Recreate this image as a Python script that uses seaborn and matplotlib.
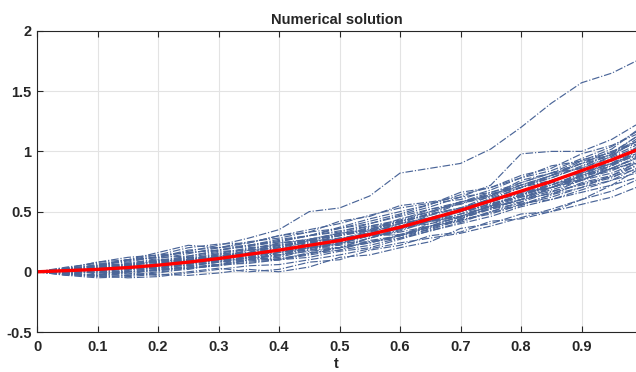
"""Numerical solution - sample paths with the mean curve on top."""

import matplotlib

matplotlib.use("Agg")
import matplotlib.pyplot as plt
import numpy as np
import pandas as pd
import seaborn as sns

# time grid
T = [0.0, 0.05, 0.1, 0.15, 0.2, 0.25, 0.3, 0.35, 0.4, 0.45, 0.5,
     0.55, 0.6, 0.65, 0.7, 0.75, 0.8, 0.85, 0.9, 0.95, 0.99]

# mean curve (red)
MEAN = [0, .01, .02, .035, .055, .08, .11, .145, .18, .22, .26,
        .31, .37, .44, .51, .59, .67, .75, .84, .93, 1.01]

# sample paths (blue dash-dot), read by eye
PATHS = [
    [0, .02, .06, .1, .12, .17, .22, .28, .35, .5, .53, .63, .82, .86, .9, 1.02, 1.2, 1.4, 1.57, 1.65, 1.75],
    [0, .02, .05, .1, .16, .22, .2, .24, .3, .33, .42, .46, .55, .58, .62, .72, .98, 1.0, 1.0, 1.1, 1.22],
    [0, -.02, -.04, -.01, -.03, .0, .03, .0, .02, .08, .1, .18, .22, .3, .33, .42, .44, .5, .56, .62, .7],
    [0, -.03, -.05, -.04, -.02, -.03, -.01, .02, .0, .04, .12, .14, .2, .25, .36, .4, .48, .5, .6, .72, .84],
    [0, .03, .08, .1, .12, .18, .2, .25, .28, .33, .36, .42, .48, .56, .64, .7, .8, .86, .98, 1.05, 1.14],
    [0, .02, -.01, .03, .06, .1, .08, .12, .16, .2, .2, .28, .34, .42, .46, .55, .58, .7, .76, .86, .95],
    [0, -.01, .03, .05, .09, .1, .15, .16, .22, .26, .32, .34, .42, .47, .57, .62, .72, .8, .92, .97, 1.08],
    [0, .03, .02, .05, .03, .06, .1, .16, .14, .2, .23, .32, .3, .4, .45, .53, .6, .74, .76, .86, .9],
    [0, -.02, .02, .04, .1, .08, .13, .16, .24, .27, .32, .35, .44, .5, .58, .63, .76, .82, .93, .99, 1.12],
    [0, .02, .01, .0, .04, .08, .06, .12, .1, .16, .18, .26, .3, .38, .42, .5, .56, .62, .7, .76, .86],
    [0, -.01, -.03, .02, .03, .09, .12, .18, .18, .26, .27, .34, .38, .47, .53, .6, .66, .76, .82, .9, 1.03],
    [0, .04, .07, .08, .13, .16, .18, .22, .27, .3, .36, .4, .46, .52, .56, .64, .72, .8, .86, .96, 1.1],
    [0, .01, .03, .05, .02, .04, .06, .1, .1, .15, .2, .28, .36, .42, .5, .6, .66, .7, .8, .89, .98],
    [0, -.02, .0, .01, .06, .05, .08, .1, .16, .18, .24, .25, .3, .35, .43, .49, .55, .64, .74, .8, .88],
    [0, .03, .05, .07, .11, .15, .2, .22, .26, .3, .37, .44, .5, .56, .66, .7, .78, .88, .92, 1.02, 1.17],
    [0, .0, .01, .04, .05, .1, .14, .15, .2, .21, .26, .3, .38, .43, .52, .6, .66, .72, .81, .9, 1.0],
    [0, .02, -.02, -.03, -.01, .03, .05, .1, .12, .18, .2, .25, .28, .34, .4, .46, .54, .6, .66, .72, .78],
    [0, .02, .06, .06, .1, .1, .14, .19, .24, .26, .3, .37, .41, .48, .53, .6, .7, .8, .9, .96, 1.05],
    [0, .01, .02, .06, .08, .12, .1, .12, .18, .22, .28, .32, .4, .44, .5, .55, .63, .74, .85, .9, .96],
    [0, -.03, -.02, .0, .02, .03, .05, .08, .1, .12, .17, .2, .27, .34, .41, .5, .58, .66, .76, .86, .94],
    [0, .01, .03, .05, .09, .13, .18, .21, .25, .3, .33, .4, .47, .54, .62, .66, .74, .82, .9, 1.0, 1.08],
    [0, .01, .05, .06, .08, .1, .1, .14, .2, .25, .28, .3, .36, .42, .48, .57, .62, .7, .78, .88, 1.0],
    [0, -.02, -.04, -.03, .0, .02, .06, .07, .1, .14, .18, .22, .28, .36, .43, .48, .56, .64, .7, .8, .9],
    [0, .03, .04, .06, .08, .08, .12, .18, .22, .24, .3, .35, .42, .48, .53, .63, .74, .82, .86, .95, 1.03],
    [0, .01, .01, .03, .07, .1, .12, .14, .18, .24, .26, .3, .37, .42, .5, .58, .65, .7, .8, .88, .97],
    [0, .0, .03, .07, .1, .12, .12, .14, .18, .2, .25, .3, .33, .38, .46, .55, .63, .72, .82, .92, 1.01],
    [0, .01, -.01, .0, .01, .05, .08, .12, .14, .2, .22, .28, .35, .42, .46, .55, .64, .7, .77, .84, .92],
    [0, .03, .05, .09, .12, .13, .17, .18, .2, .27, .3, .34, .4, .49, .57, .65, .7, .76, .82, .9, .98],
    [0, -.01, .02, .03, .03, .07, .1, .15, .17, .2, .23, .3, .38, .42, .46, .54, .6, .65, .73, .79, .85],
    [0, .02, .04, .02, .05, .1, .13, .16, .21, .26, .31, .36, .4, .45, .52, .61, .7, .78, .87, .98, 1.08],
    [0, .0, .01, .05, .06, .07, .09, .11, .14, .17, .2, .24, .3, .37, .44, .52, .6, .7, .79, .85, .91],
    [0, .02, .02, .04, .07, .12, .16, .19, .23, .27, .32, .38, .42, .5, .58, .66, .72, .78, .88, .98, 1.12],
    [0, -.02, -.03, .0, .01, .03, .06, .09, .11, .15, .2, .24, .3, .37, .44, .53, .6, .67, .72, .78, .88],
    [0, .01, .04, .06, .09, .11, .15, .2, .22, .25, .27, .32, .38, .44, .52, .58, .67, .76, .84, .93, 1.0],
    [0, -.01, -.03, -.05, -.04, -.01, .02, .05, .06, .1, .14, .19, .24, .28, .32, .38, .45, .52, .6, .67, .76],
    [0, .03, .08, .12, .14, .2, .23, .24, .3, .35, .4, .47, .53, .57, .6, .68, .78, .84, .94, 1.04, 1.16],
    [0, .02, .01, .03, .01, .04, .09, .13, .18, .23, .25, .3, .31, .38, .46, .52, .57, .6, .68, .76, .82],
    [0, -.01, .0, -.02, .02, .06, .1, .11, .13, .19, .26, .33, .4, .45, .5, .56, .64, .72, .8, .86, .94],
    [0, .01, .05, .1, .14, .16, .18, .22, .25, .3, .34, .38, .43, .52, .58, .64, .7, .8, .9, 1.0, 1.06],
    [0, .02, .03, .04, .06, .09, .12, .14, .16, .2, .24, .3, .36, .4, .48, .54, .62, .68, .76, .82, .9],
]

PATH_COLOR = "#4a6598"
MEAN_COLOR = "#ff0000"


def build_frame() -> pd.DataFrame:
    rows = []
    for k, path in enumerate(PATHS):
        for t, v in zip(T, path):
            rows.append({"path": k, "t": t, "v": v})
    return pd.DataFrame(rows)


def main():
    sns.set_style("white")
    plt.rcParams["font.family"] = ["Liberation Sans", "DejaVu Sans"]
    plt.rcParams["font.weight"] = "bold"

    fig = plt.figure(figsize=(6.36, 3.72), dpi=100)
    ax = fig.add_axes([37 / 636, 1 - 332 / 372, 1 - 37 / 636, (332 - 31) / 372])

    df = build_frame()
    sns.lineplot(data=df, x="t", y="v", units="path", estimator=None,
                 color=PATH_COLOR, linestyle="-.", linewidth=0.85, ax=ax,
                 legend=False)
    sns.lineplot(x=T, y=MEAN, color=MEAN_COLOR, linewidth=2.4, ax=ax,
                 legend=False)

    ax.set_xlim(0, 0.99)
    ax.set_ylim(-0.5, 2)
    ax.set_xticks(np.arange(0, 1.0, 0.1))
    ax.set_xticklabels(["0", "0.1", "0.2", "0.3", "0.4", "0.5", "0.6", "0.7", "0.8", "0.9"])
    ax.set_yticks([-0.5, 0, 0.5, 1, 1.5, 2])
    ax.set_yticklabels(["-0.5", "0", "0.5", "1", "1.5", "2"])

    ax.grid(True, color="#e3e3e3", linewidth=0.8)
    ax.set_axisbelow(True)
    for side in ["left", "bottom", "top"]:
        ax.spines[side].set_color("#262626")
        ax.spines[side].set_linewidth(0.8)
    ax.spines["right"].set_visible(False)
    ax.tick_params(direction="in", length=4, width=0.8, color="#262626",
                   labelsize=10.5, top=True, left=True, bottom=True,
                   labelcolor="#262626")
    ax.tick_params(axis="x", pad=6)
    ax.tick_params(axis="y", pad=4)
    for lab in ax.get_xticklabels() + ax.get_yticklabels():
        lab.set_fontweight("bold")

    ax.set_title("Numerical solution", fontsize=10.5, fontweight="bold", pad=5)
    ax.set_xlabel("t", fontsize=10.5, fontweight="bold", labelpad=2)
    ax.set_ylabel("")

    fig.savefig("out.png", dpi=100)


if __name__ == "__main__":
    main()
